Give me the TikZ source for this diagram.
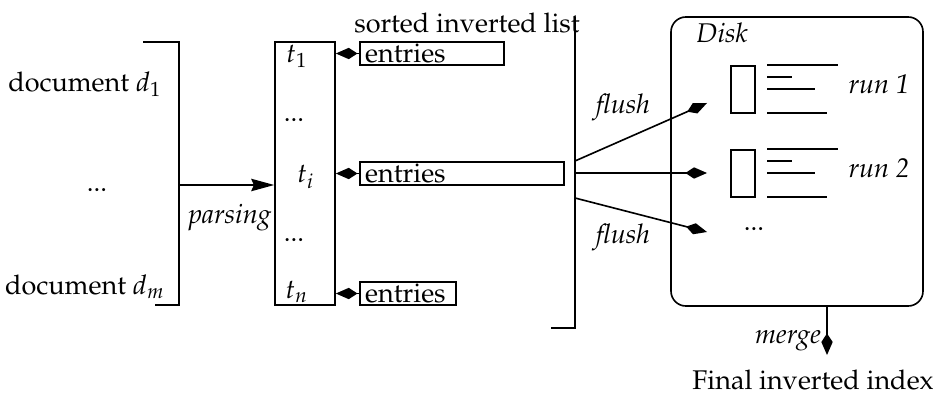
\documentclass[tikz,border=0pt]{standalone}
\usepackage[T1]{fontenc}
\usepackage{mathpazo}
\usepackage{tikz}
\usetikzlibrary{arrows.meta,fit}
\tikzset{
  base/.style={draw=black, line width=0.6pt},
  box/.style={base, inner sep=0pt},
  entrybox/.style={base, anchor=west, inner xsep=2pt, inner ysep=0pt,
    minimum height=8.5pt, align=left},
  lab/.style={font=\normalsize},
  labi/.style={font=\normalsize\itshape},
  ptr/.style={base, -{Kite[length=8pt, width=4.2pt, inset=3.2pt]}},
  feed/.style={base, -{Stealth[length=8.5pt, width=4.6pt, inset=1pt]}},
}

\begin{document}
\begin{tikzpicture}[x=0.37pt, y=-0.37pt]
  \useasboundingbox (0,0) rectangle (935,396);

  % documents and their bracket
  \node[lab] (doc1) at (85,84) {document $d_1$};
  \node[lab] (docdots) at (97,190) {...};
  \node[lab] (docm) at (85,287) {document $d_m$};
  \draw[base] (143,42) -- (179,42) -- (179,305) -- (155,305);
  \coordinate (split) at (179,185);

  % term table
  \node[box, fit={(275,42) (335,305)}] (terms) {};
  \node[lab] (t1) at (297,56) {$t_1$};
  \node[lab] (tdots1) at (294,120) {...};
  \node[lab] (ti) at (306,177) {$t_i$};
  \node[lab] (tdots2) at (294,240) {...};
  \node[lab] (tn) at (297,292) {$t_n$};
  \draw[feed] (split) -- (terms.west |- split);
  \node[labi] (parse) at (230,217) {parsing};

  % posting lists
  \node[entrybox, text width=49.3pt] (e1) at (359,53.5) {entries};
  \node[entrybox, text width=71.5pt] (ei) at (359,173.5) {entries};
  \node[entrybox, text width=31.5pt] (en) at (359,293.5) {entries};
  \foreach \e in {e1,ei,en}
    \draw[ptr] (\e.west) -- (terms.east |- \e.west);

  % sorted list bracket
  \node[lab] (sorted) at (467,23) {sorted inverted list};
  \draw[base] (575,17) -- (575,328) -- (551,328);
  \coordinate (fa) at (575,161);
  \coordinate (fb) at (575,173);
  \coordinate (fc) at (575,198);

  % disk with the runs
  \node[box, rounded corners=5.5pt, fit={(671,17) (923,306)}] (disk) {};
  \node[labi] (disklab) at (722,33) {Disk};
  \node[box, fit={(731,66) (755,113)}] (blk1) {};
  \node[box, fit={(731,150) (755,197)}] (blk2) {};
  \foreach \y in {0,84}{
    \draw[base] (767,65+\y) -- (838,65+\y);
    \draw[base] (767,77+\y) -- (792,77+\y);
    \draw[base] (767,89+\y) -- (815,89+\y);
    \draw[base] (767,113+\y) -- (827,113+\y);
  }
  \node[labi] (run1) at (879,84) {run 1};
  \node[labi] (run2) at (879,168) {run 2};
  \node[lab] (diskdots) at (754,229) {...};
  \coordinate (ta) at (707,103);
  \coordinate (tb) at (707,173);
  \coordinate (tc) at (707,232);

  % flushing to disk
  \draw[ptr] (fa) -- (ta);
  \draw[ptr] (fb) -- (tb);
  \draw[ptr] (fc) -- (tc);
  \node[labi] (flush1) at (623,107) {flush};
  \node[labi] (flush2) at (623,237) {flush};

  % merging the runs
  \coordinate (mout) at (827,355);
  \draw[ptr] (disk.south -| mout) -- (mout);
  \node[labi] (merge) at (788,340) {merge};
  \node[lab] (final) at (813,380) {Final inverted index};
\end{tikzpicture}
\end{document}
